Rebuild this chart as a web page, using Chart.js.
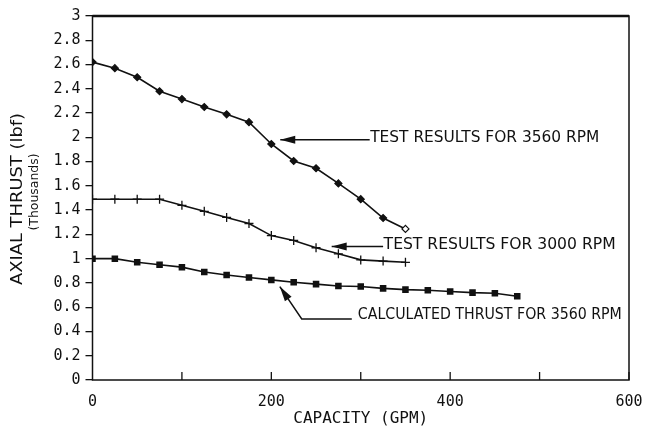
<!DOCTYPE html>
<html>
<head>
<meta charset="utf-8">
<script src="https://cdn.jsdelivr.net/npm/chart.js@4.4.1/dist/chart.umd.min.js"></script>
<style>
  html, body { margin: 0; padding: 0; background: #fff; }
</style>
</head>
<body>
<canvas id="thrustChart" width="645" height="429"></canvas>
<script>
// capacity (GPM) at each test point
const capacity = [0, 25, 50, 75, 100, 125, 150, 175, 200, 225, 250, 275, 300, 325, 350,
  375, 400, 425, 450, 475];
// axial thrust, thousands of lbf
const test3560 = [2.62, 2.57, 2.495, 2.38, 2.315, 2.25, 2.19, 2.125, 1.945, 1.805, 1.745,
  1.62, 1.49, 1.335, 1.245];
const test3000 = [1.49, 1.49, 1.49, 1.49, 1.44, 1.39, 1.34, 1.29, 1.19, 1.15, 1.09, 1.04,
  0.99, 0.98, 0.97];
const calc3560 = [1.0, 1.0, 0.97, 0.95, 0.93, 0.89, 0.865, 0.845, 0.825, 0.805, 0.79, 0.775,
  0.77, 0.755, 0.745, 0.74, 0.73, 0.72, 0.715, 0.69];
const xLabels = [0, 200, 400, 600];

const pts = (ys) => ys.map((y, i) => ({ x: capacity[i], y: y }));

const ink = "#111";
const plotFont = "DejaVu Sans";

// text squeezed to a given width, like the plotter lettering
function fitText(ctx, text, x, y, width, size) {
  ctx.save();
  ctx.font = size + "px '" + plotFont + "'";
  const w = ctx.measureText(text).width;
  ctx.translate(x, y);
  ctx.scale(width / w, 1);
  ctx.textBaseline = "middle";
  ctx.fillStyle = ink;
  ctx.fillText(text, 0, 0);
  ctx.restore();
}

function arrowHead(ctx, fromX, fromY, tipX, tipY, len, half) {
  const a = Math.atan2(tipY - fromY, tipX - fromX);
  ctx.beginPath();
  ctx.moveTo(tipX, tipY);
  ctx.lineTo(tipX - len * Math.cos(a) + half * Math.sin(a), tipY - len * Math.sin(a) - half * Math.cos(a));
  ctx.lineTo(tipX - len * Math.cos(a) - half * Math.sin(a), tipY - len * Math.sin(a) + half * Math.cos(a));
  ctx.closePath();
  ctx.fill();
}

const plotDecor = {
  id: "plotDecor",
  afterDraw(chart) {
    const { ctx, chartArea: a, scales: { x, y } } = chart;
    ctx.save();
    ctx.strokeStyle = ink;
    ctx.fillStyle = ink;

    // frame
    ctx.lineWidth = 1.5;
    ctx.strokeRect(a.left, a.top, a.right - a.left, a.bottom - a.top);
    ctx.lineWidth = 2.5;
    ctx.beginPath();
    ctx.moveTo(a.left, a.top);
    ctx.lineTo(a.right, a.top);
    ctx.stroke();

    // inward ticks on the capacity axis
    ctx.lineWidth = 1.3;
    for (let v = 100; v <= 600; v += 100) {
      const px = x.getPixelForValue(v);
      ctx.beginPath();
      ctx.moveTo(px, a.bottom);
      ctx.lineTo(px, a.bottom - 8);
      ctx.stroke();
    }

    // callouts
    ctx.lineWidth = 1.5;
    const notes = [
      { text: "TEST RESULTS FOR 3560 RPM", path: [[310, 1.98], [210, 1.98]], w: 229, dy: -1.5 },
      { text: "TEST RESULTS FOR 3000 RPM", path: [[325, 1.10], [267.5, 1.10]], w: 232, dy: -1.5 },
      { text: "CALCULATED THRUST FOR 3560 RPM", path: [[290, 0.503], [234, 0.503], [209.5, 0.77]], w: 264, dy: -4, gap: 6 }
    ];
    notes.forEach((n) => {
      const p = n.path.map(([vx, vy]) => [x.getPixelForValue(vx), y.getPixelForValue(vy)]);
      ctx.beginPath();
      ctx.moveTo(p[0][0], p[0][1]);
      for (let i = 1; i < p.length; i++) ctx.lineTo(p[i][0], p[i][1]);
      ctx.stroke();
      const k = p.length - 1;
      arrowHead(ctx, p[k - 1][0], p[k - 1][1], p[k][0], p[k][1], 15, 4);
      fitText(ctx, n.text, p[0][0] + (n.gap || 0.5), p[0][1] + n.dy, n.w, 16);
    });

    // y axis title, two lines
    ctx.save();
    ctx.translate(18, 199);
    ctx.rotate(-Math.PI / 2);
    fitText(ctx, "AXIAL THRUST (lbf)", -86, 0, 172, 16);
    ctx.restore();
    ctx.save();
    ctx.translate(35, 192);
    ctx.rotate(-Math.PI / 2);
    fitText(ctx, "(Thousands)", -38.5, 0, 77, 13);
    ctx.restore();

    ctx.restore();
  }
};

const ctx = document.getElementById("thrustChart").getContext("2d");
new Chart(ctx, {
  type: "line",
  data: {
    datasets: [
      {
        label: "Test results for 3560 RPM",
        data: pts(test3560),
        borderColor: ink,
        borderWidth: 1.6,
        pointStyle: "rectRot",
        pointRadius: 3.5,
        pointBorderWidth: 1.2,
        pointBorderColor: ink,
        pointBackgroundColor: test3560.map((v, i) => (i === test3560.length - 1 ? "#fff" : ink)),
        tension: 0
      },
      {
        label: "Test results for 3000 RPM",
        data: pts(test3000),
        borderColor: ink,
        borderWidth: 1.6,
        pointStyle: "cross",
        pointRadius: 4.5,
        pointBorderWidth: 1.3,
        pointBorderColor: ink,
        tension: 0
      },
      {
        label: "Calculated thrust for 3560 RPM",
        data: pts(calc3560),
        borderColor: ink,
        borderWidth: 1.6,
        pointStyle: "rect",
        pointRadius: 3.5,
        pointBorderColor: ink,
        pointBackgroundColor: ink,
        tension: 0
      }
    ]
  },
  options: {
    responsive: false,
    animation: false,
    devicePixelRatio: 1,
    layout: { padding: { top: 16, right: 16, left: 0, bottom: 0 } },
    plugins: {
      legend: { display: false },
      tooltip: { enabled: false }
    },
    scales: {
      x: {
        type: "linear",
        min: 0,
        max: 600,
        afterFit: (s) => { s.height = 49; s.paddingRight = 0; },
        grid: { display: false },
        border: { display: false },
        ticks: {
          stepSize: 100,
          padding: 5,
          color: ink,
          font: { family: "DejaVu Sans Mono", size: 15 },
          callback: (v) => (xLabels.includes(v) ? String(v) : "")
        },
        title: {
          display: true,
          text: "CAPACITY (GPM)",
          color: ink,
          font: { family: "DejaVu Sans Mono", size: 16 },
          padding: { top: 0, bottom: 1 }
        }
      },
      y: {
        min: 0,
        max: 3,
        afterFit: (s) => { s.width = 92.5; },
        grid: { drawOnChartArea: false, drawTicks: true, tickLength: 7, color: ink, lineWidth: 1.3 },
        border: { display: false },
        ticks: {
          stepSize: 0.2,
          padding: 5,
          color: ink,
          font: { family: "DejaVu Sans Mono", size: 15 },
          callback: (v) => String(+v.toFixed(1))
        }
      }
    }
  },
  plugins: [plotDecor]
});
</script>
</body>
</html>
